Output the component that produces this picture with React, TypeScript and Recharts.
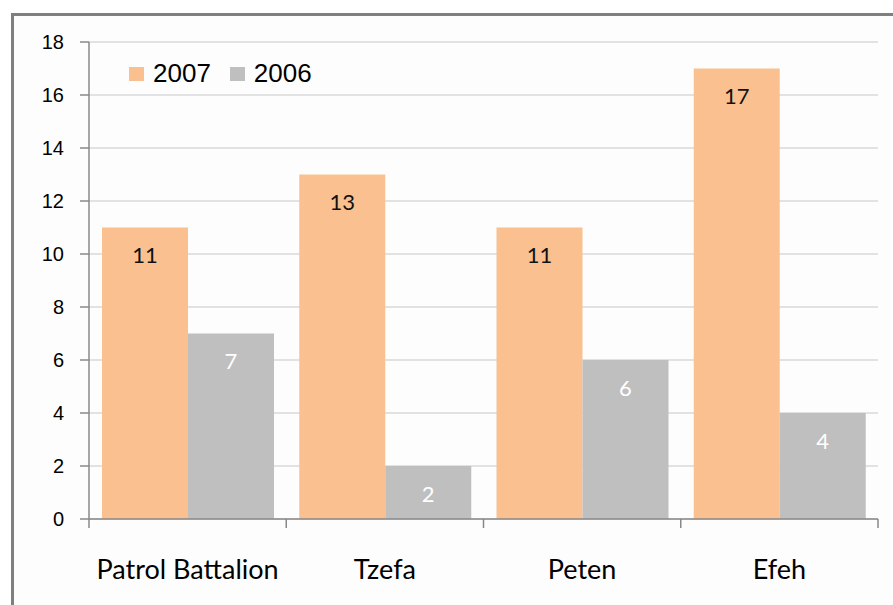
import React from 'react';
import { BarChart, Bar, XAxis, YAxis, CartesianGrid, Legend, LabelList } from 'recharts';

const categories = ['Patrol Battalion', 'Tzefa', 'Peten', 'Efeh'];
const values2007 = [11, 13, 11, 17];
const values2006 = [7, 2, 6, 4];
const yTicks = [0, 2, 4, 6, 8, 10, 12, 14, 16, 18];
const boundaryTicks = [0, 1, 2, 3, 4];
const seriesNames = ['2007', '2006'];
const seriesColors = ['#fac090', '#bfbfbf'];

const data = categories.map((name, i) => ({
  name,
  pos: i + 0.5,
  y2007: values2007[i],
  y2006: values2006[i],
}));

const renderLegend = () => (
  <div style={{ display: 'flex', alignItems: 'center', fontFamily: '"Liberation Sans", Arial, sans-serif', fontSize: 26, lineHeight: '26px', color: '#000' }}>
    {seriesNames.map((n, i) => (
      <div key={n} style={{ display: 'flex', alignItems: 'center', marginRight: i === 0 ? 19 : 0 }}>
        <div style={{ width: 15, height: 14, background: seriesColors[i], marginRight: 9, marginTop: 2 }} />
        <span>{n}</span>
      </div>
    ))}
  </div>
);

export default function App() {
  return (
    <div style={{ position: 'absolute', left: 0, top: 0, width: 893, height: 605, overflow: 'hidden', background: '#fff' }}>
      <div style={{ position: 'absolute', left: 11, top: 13, width: 900, height: 620, border: '3px solid #7f7f7f', background: '#fdfdfd' }} />
      <div style={{ position: 'absolute', left: 0, top: 0 }}>
        <BarChart
          width={893}
          height={605}
          data={data}
          margin={{ top: 42, right: 15, bottom: 0, left: 0 }}
          barCategoryGap={13}
          barGap={0}
        >
          <CartesianGrid vertical={false} stroke="#d9d9d9" strokeWidth={1.5} />
          <XAxis
            xAxisId={0}
            type="number"
            dataKey="pos"
            domain={[0, 4]}
            allowDataOverflow
            ticks={boundaryTicks}
            tickFormatter={() => ''}
            tickSize={9}
            height={1}
            stroke="#888"
            tickLine={{ stroke: '#888', strokeWidth: 1.5 }}
            axisLine={{ stroke: '#888', strokeWidth: 1.5 }}
          />
          <XAxis
            xAxisId="cat"
            dataKey="name"
            height={85}
            tickLine={false}
            axisLine={false}
            tickSize={0}
            tickMargin={40}
            interval={0}
            tick={{ fill: '#000', fontSize: 27, fontFamily: 'Lato, "Open Sans", sans-serif' }}
          />
          <YAxis
            width={89}
            domain={[0, 18]}
            ticks={yTicks}
            tickSize={9}
            tickMargin={16}
            stroke="#888"
            tickLine={{ stroke: '#888', strokeWidth: 1.5 }}
            axisLine={{ stroke: '#888', strokeWidth: 1.5 }}
            tick={{ fill: '#000', fontSize: 20, fontFamily: '"Liberation Sans", Arial, sans-serif' }}
          />
          <Legend
            layout="horizontal"
            verticalAlign="middle"
            align="center"
            content={renderLegend}
            wrapperStyle={{ top: 60, left: 129, width: 'auto' }}
          />
          <Bar xAxisId="cat" dataKey="y2007" name="2007" fill={seriesColors[0]} isAnimationActive={false}>
            <LabelList dataKey="y2007" position="insideTop" offset={20} fill="#111" fontSize={22} fontFamily='Lato, "Open Sans", sans-serif' />
          </Bar>
          <Bar xAxisId="cat" dataKey="y2006" name="2006" fill={seriesColors[1]} isAnimationActive={false}>
            <LabelList dataKey="y2006" position="insideTop" offset={20} fill="#fff" fontSize={22} fontFamily='Lato, "Open Sans", sans-serif' />
          </Bar>
        </BarChart>
      </div>
    </div>
  );
}
